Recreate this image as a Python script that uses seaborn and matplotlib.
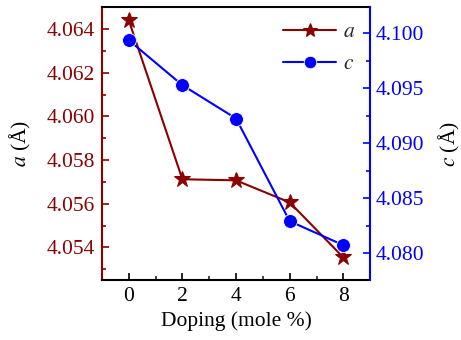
import matplotlib
matplotlib.use("Agg")
import matplotlib.pyplot as plt
import seaborn as sns
import pandas as pd
from matplotlib.ticker import MultipleLocator, FormatStrFormatter

doping = [0, 2, 4, 6, 8]
a_vals = [4.06441, 4.05712, 4.05707, 4.05606, 4.05354]
c_vals = [4.09936, 4.09527, 4.09224, 4.08291, 4.08073]

sns.set_style("white")
plt.rcParams['font.family'] = ['Liberation Serif', 'DejaVu Serif']
plt.rcParams['mathtext.fontset'] = 'stix'

red = '#8B0000'
blue = '#0000FF'

df_a = pd.DataFrame({'x': doping, 'y': a_vals})
df_c = pd.DataFrame({'x': doping, 'y': c_vals})

fig = plt.figure(figsize=(4.61, 3.40), dpi=100)
ax = fig.add_axes([0.221, 0.176, 0.582, 0.803])
ax2 = ax.twinx()

sns.lineplot(data=df_a, x='x', y='y', ax=ax, color=red, marker='*', markersize=12,
             markeredgecolor=red, linewidth=1.5, legend=False)
sns.lineplot(data=df_c, x='x', y='y', ax=ax2, color=blue, marker='o', markersize=10,
             markeredgecolor='white', markeredgewidth=0.6, linewidth=1.5, legend=False)

ax.set_xlim(-1, 9)
ax.set_ylim(4.0525, 4.065)
ax2.set_ylim(4.07755, 4.10236)

ax.xaxis.set_major_locator(MultipleLocator(2))
ax.xaxis.set_minor_locator(MultipleLocator(1))
ax.yaxis.set_major_locator(MultipleLocator(0.002))
ax.yaxis.set_minor_locator(MultipleLocator(0.001))
ax.yaxis.set_major_formatter(FormatStrFormatter('%.3f'))
ax2.yaxis.set_major_locator(MultipleLocator(0.005))
ax2.yaxis.set_minor_locator(MultipleLocator(0.0025))
ax2.yaxis.set_major_formatter(FormatStrFormatter('%.3f'))

fs = 15.5
ax.tick_params(axis='x', which='major', direction='in', length=5, width=1.2, labelsize=fs, colors='black', bottom=True, top=False, pad=5)
ax.tick_params(axis='x', which='minor', direction='in', length=3, width=1.2, bottom=True, top=False)
ax.tick_params(axis='y', which='major', direction='in', length=5, width=1.2, labelsize=fs, colors=red, left=True, right=False, pad=5)
ax.tick_params(axis='y', which='minor', direction='in', length=3, width=1.2, colors=red, left=True, right=False)
ax2.tick_params(axis='y', which='major', direction='in', length=5, width=1.2, labelsize=fs, colors=blue, right=True, left=False, pad=4)
ax2.tick_params(axis='y', which='minor', direction='in', length=3, width=1.2, colors=blue, right=True, left=False)

for sp in ['top', 'bottom']:
    ax.spines[sp].set_color('black')
    ax.spines[sp].set_linewidth(1.5)
ax.spines['left'].set_color(red)
ax.spines['left'].set_linewidth(1.5)
ax2.spines['right'].set_color(blue)
ax2.spines['right'].set_linewidth(1.5)
ax2.spines['left'].set_visible(False)
ax2.spines['top'].set_visible(False)
ax2.spines['bottom'].set_visible(False)
ax.spines['right'].set_visible(False)

ax.set_xlabel('Doping (mole %)', fontsize=fs, color='black', labelpad=4)
ax.set_ylabel(r'$a$ (Å)', fontsize=fs, color='black', labelpad=10)
ax2.set_ylabel(r'$c$ (Å)', fontsize=fs, color='black', labelpad=9)

ha = ax.get_lines()[0]
hc = ax2.get_lines()[0]
leg = ax2.legend([ha, hc], [r'$a$', r'$c$'], loc='upper right', frameon=False, fontsize=fs,
                 handlelength=2.5, handletextpad=0.3, borderaxespad=0.3, labelspacing=0.55,
                 markerscale=0.9)

fig.savefig('out.png', dpi=100)
